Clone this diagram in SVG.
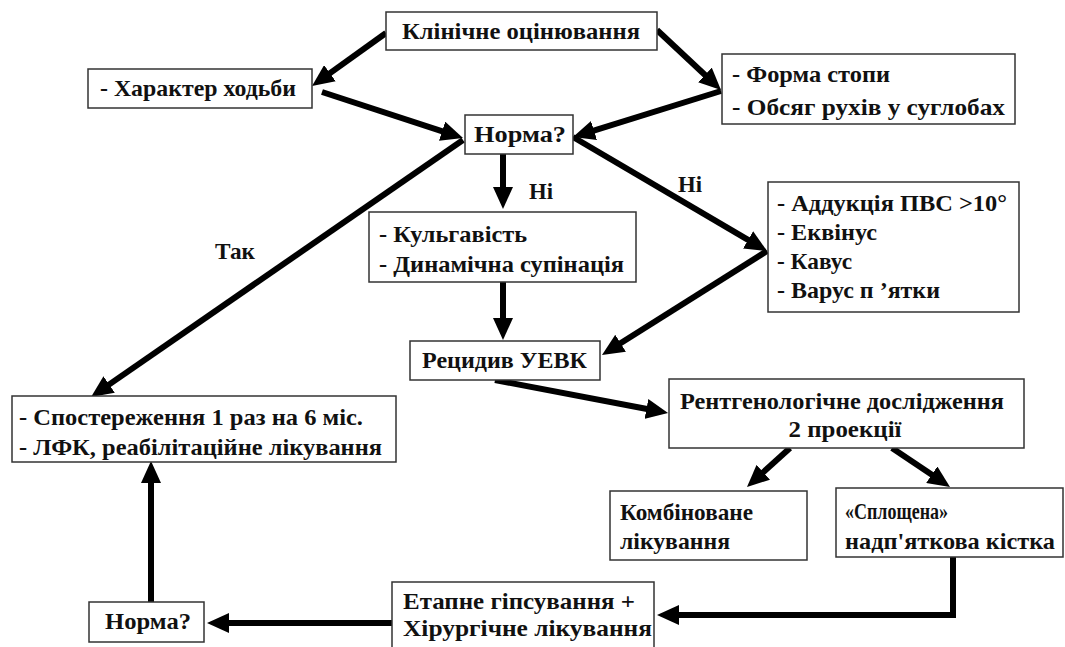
<svg xmlns="http://www.w3.org/2000/svg" width="1065" height="647" viewBox="0 0 1065 647" font-family="Liberation Serif, Tinos, DejaVu Serif, serif">
<defs>
<marker id="ah" markerUnits="userSpaceOnUse" markerWidth="22" markerHeight="20" refX="2" refY="10" orient="auto">
<path d="M0,0 L22,10 L0,20 z" fill="#000"/>
</marker>
<style>
.box{fill:#fff;stroke:#333;stroke-width:1.5}
.t{font-weight:700;font-size:23px;fill:#111}
.m{text-anchor:middle}
.c{fill:none;stroke:#000;stroke-width:6;marker-end:url(#ah)}
</style>
</defs>
<rect width="1065" height="647" fill="#fff"/>
<g id="connectors">
<line class="c" x1="386" y1="33" x2="328.3" y2="74.4"/>
<line class="c" x1="657" y1="30" x2="706.4" y2="76.3"/>
<line class="c" x1="322" y1="92" x2="444" y2="131.8"/>
<line class="c" x1="721" y1="91" x2="592.1" y2="131.1"/>
<line class="c" x1="503" y1="154" x2="503" y2="189"/>
<line class="c" x1="463" y1="140" x2="107.5" y2="385.6"/>
<line class="c" x1="573" y1="137" x2="749.8" y2="240.9"/>
<line class="c" x1="503" y1="282" x2="503" y2="320"/>
<line class="c" x1="767" y1="251" x2="618.9" y2="344.3"/>
<line class="c" x1="495" y1="380" x2="648.4" y2="409.3"/>
<line class="c" x1="790" y1="448" x2="761.8" y2="473.6"/>
<line class="c" x1="892" y1="448" x2="933.4" y2="475.8"/>
<polyline class="c" points="953,557 953,615 677,615"/>
<line class="c" x1="392" y1="623" x2="227" y2="623"/>
<line class="c" x1="151" y1="602" x2="151" y2="481"/>
<text class="t m" x="541" y="199" textLength="24" lengthAdjust="spacingAndGlyphs">Ні</text>
<text class="t m" x="690" y="192" textLength="24" lengthAdjust="spacingAndGlyphs">Ні</text>
<text class="t m" x="235" y="259" textLength="40" lengthAdjust="spacingAndGlyphs">Так</text>
</g>
<g id="n1"><rect class="box" x="386" y="12" width="271" height="38"/><text class="t m" x="521" y="39" textLength="238" lengthAdjust="spacingAndGlyphs">Клінічне оцінювання</text></g>
<g id="n2"><rect class="box" x="88" y="69" width="224" height="39"/><text class="t" x="100" y="96" textLength="196" lengthAdjust="spacingAndGlyphs">- Характер ходьби</text></g>
<g id="n3"><rect class="box" x="722" y="54" width="293" height="70"/><text class="t" x="732" y="82" textLength="158" lengthAdjust="spacingAndGlyphs">- Форма стопи</text><text class="t" x="732" y="115" textLength="273" lengthAdjust="spacingAndGlyphs">- Обсяг  рухів у суглобах</text></g>
<g id="n4"><rect class="box" x="465" y="115" width="108" height="39"/><text class="t m" x="520" y="142" textLength="92" lengthAdjust="spacingAndGlyphs">Норма?</text></g>
<g id="n5"><rect class="box" x="369" y="212" width="267" height="70"/><text class="t" x="379" y="242" textLength="148" lengthAdjust="spacingAndGlyphs">- Кульгавість</text><text class="t" x="379" y="272" textLength="245" lengthAdjust="spacingAndGlyphs">- Динамічна супінація</text></g>
<g id="n6"><rect class="box" x="768" y="182" width="251" height="130"/><text class="t" x="777" y="211" textLength="230" lengthAdjust="spacingAndGlyphs">- Аддукція ПВС &gt;10°</text><text class="t" x="777" y="240" textLength="100" lengthAdjust="spacingAndGlyphs">- Еквінус</text><text class="t" x="777" y="269" textLength="75" lengthAdjust="spacingAndGlyphs">- Кавус</text><text class="t" x="777" y="298" textLength="163" lengthAdjust="spacingAndGlyphs">- Варус п ’ятки</text></g>
<g id="n7"><rect class="box" x="410" y="341" width="190" height="39"/><text class="t" x="422" y="368" textLength="165" lengthAdjust="spacingAndGlyphs">Рецидив УЕВК</text></g>
<g id="n8"><rect class="box" x="669" y="379" width="355" height="69"/><text class="t m" x="842" y="409" textLength="324" lengthAdjust="spacingAndGlyphs">Рентгенологічне дослідження</text><text class="t m" x="845" y="437" textLength="113" lengthAdjust="spacingAndGlyphs">2 проекції</text></g>
<g id="n9"><rect class="box" x="12" y="396" width="384" height="66"/><text class="t" x="19" y="425" textLength="344" lengthAdjust="spacingAndGlyphs">- Спостереження 1 раз на 6 міс.</text><text class="t" x="19" y="455" textLength="363" lengthAdjust="spacingAndGlyphs">- ЛФК, реабілітаційне лікування</text></g>
<g id="n10"><rect class="box" x="610" y="491" width="197" height="69"/><text class="t" x="620" y="520" textLength="133" lengthAdjust="spacingAndGlyphs">Комбіноване</text><text class="t" x="620" y="549" textLength="110" lengthAdjust="spacingAndGlyphs">лікування</text></g>
<g id="n11"><rect class="box" x="836" y="488" width="227" height="69"/><text class="t" x="845" y="519" textLength="103" lengthAdjust="spacingAndGlyphs">«Сплощена»</text><text class="t" x="845" y="549" textLength="210" lengthAdjust="spacingAndGlyphs">надп'яткова кістка</text></g>
<g id="n12"><rect class="box" x="392" y="582" width="262" height="70"/><text class="t" x="403" y="609" textLength="232" lengthAdjust="spacingAndGlyphs">Етапне гіпсування  +</text><text class="t" x="403" y="636" textLength="249" lengthAdjust="spacingAndGlyphs">Хірургічне лікування</text></g>
<g id="n13"><rect class="box" x="89" y="602" width="115" height="40"/><text class="t m" x="148" y="629" textLength="86" lengthAdjust="spacingAndGlyphs">Норма?</text></g>
</svg>
